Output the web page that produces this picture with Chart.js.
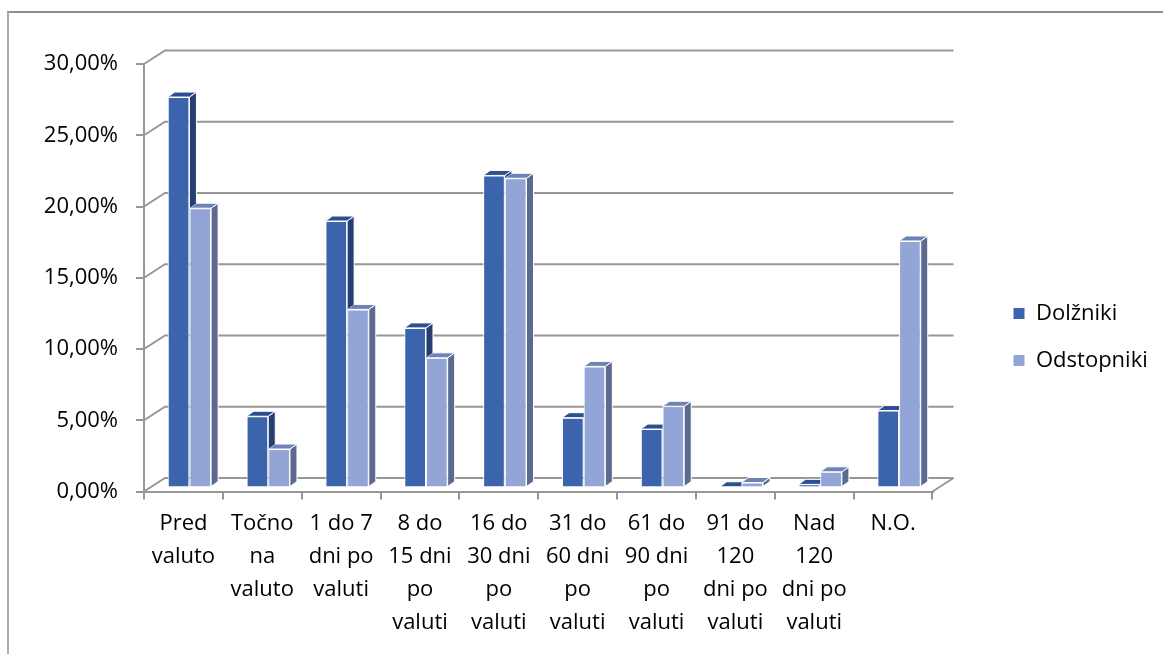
<!DOCTYPE html>
<html>
<head>
<meta charset="utf-8">
<script src="https://cdn.jsdelivr.net/npm/chart.js@4.4.1/dist/chart.umd.min.js"></script>
<style>
  html, body { margin: 0; padding: 0; background: #ffffff; }
  #wrap { width: 1163px; height: 654px; position: relative; }
</style>
</head>
<body>
<div id="wrap"><canvas id="chart" width="1163" height="654"></canvas></div>
<script>
// Categories (payment timing buckets)
const categories = [
  ["Pred", "valuto"],
  ["Točno", "na", "valuto"],
  ["1 do 7", "dni po", "valuti"],
  ["8 do", "15 dni", "po", "valuti"],
  ["16 do", "30 dni", "po", "valuti"],
  ["31 do", "60 dni", "po", "valuti"],
  ["61 do", "90 dni", "po", "valuti"],
  ["91 do", "120", "dni po", "valuti"],
  ["Nad", "120", "dni po", "valuti"],
  ["N.O."]
];

// Shares in percent
const dolzniki    = [27.4, 5.0, 18.7, 11.2, 21.9, 4.9, 4.1, 0.05, 0.22, 5.4];
const odstopniki  = [19.6, 2.7, 12.5, 9.1, 21.7, 8.5, 5.7, 0.35, 1.1, 17.3];

const seriesNames = ["Dolžniki", "Odstopniki"];

// Value axis ticks
const yTicks = [0, 5, 10, 15, 20, 25, 30];

const FONT = "'Open Sans'";
const FONT_SIZE = 22;
const GRID = "#979797";

// Face colours per series: front, side, top
const faces = [
  { front: "#3b64ad", side: "#263f72", top: "#2d4f8f" },
  { front: "#92a5d6", side: "#5c6a8f", top: "#6f82b4" }
];

// Depth of the wall/floor and of each bar prism
const WALL_DX = 21, WALL_DY = -13.5;
const BAR_DX = 7, BAR_DY = -5;
// Bars stand part-way into the floor
const BAR_SHIFT_X = 6, BAR_SHIFT_Y = -4;

function fmtPct(v) {
  return v.toFixed(2).replace(".", ",") + "%";
}

const frame = {
  id: "frame",
  beforeDraw(chart) {
    const ctx = chart.ctx;
    ctx.save();
    ctx.fillStyle = "#ffffff";
    ctx.fillRect(0, 0, chart.width, chart.height);
    ctx.lineWidth = 2;
    ctx.strokeStyle = "#8e8e8e";
    ctx.beginPath();
    ctx.moveTo(7, 12);
    ctx.lineTo(chart.width, 12);
    ctx.stroke();
    ctx.strokeStyle = "#ababab";
    ctx.beginPath();
    ctx.moveTo(8, 12);
    ctx.lineTo(8, chart.height);
    ctx.stroke();
    ctx.restore();
  }
};

// Back wall, side wall and floor lines of the 3D box, then offset the bars into depth
const box3d = {
  id: "box3d",
  beforeDatasetsDraw(chart) {
    const ctx = chart.ctx;
    const y = chart.scales.y;
    const { left, right, bottom } = chart.chartArea;
    ctx.save();
    ctx.strokeStyle = GRID;
    ctx.lineWidth = 2;
    ctx.lineCap = "butt";
    y.ticks.forEach(t => {
      const py = y.getPixelForValue(t.value);
      ctx.beginPath();
      ctx.moveTo(left, py);
      ctx.lineTo(left + WALL_DX, py + WALL_DY);
      ctx.lineTo(right + WALL_DX, py + WALL_DY);
      ctx.stroke();
    });
    ctx.beginPath();
    ctx.moveTo(right, bottom);
    ctx.lineTo(right + WALL_DX, bottom + WALL_DY);
    ctx.stroke();
    ctx.restore();

    ctx.save();
    ctx.translate(BAR_SHIFT_X, BAR_SHIFT_Y);
  },
  afterDatasetDraw(chart, args) {
    const ctx = chart.ctx;
    const idx = args.index;
    const col = faces[idx];
    const other = idx === 0 ? chart.getDatasetMeta(1) : null;
    args.meta.data.forEach((bar, i) => {
      const p = bar.getProps(["x", "y", "base", "width"], true);
      const l = p.x - p.width / 2, r = p.x + p.width / 2;
      ctx.save();
      if (other && other.data[i]) {
        // keep the neighbouring (already drawn) prism in front
        const o = other.data[i].getProps(["x", "y", "base", "width"], true);
        const ol = o.x - o.width / 2, or = o.x + o.width / 2;
        ctx.beginPath();
        ctx.rect(-50, -50, chart.width + 100, chart.height + 100);
        ctx.moveTo(ol, o.base);
        ctx.lineTo(ol, o.y);
        ctx.lineTo(ol + BAR_DX, o.y + BAR_DY);
        ctx.lineTo(or + BAR_DX, o.y + BAR_DY);
        ctx.lineTo(or + BAR_DX, o.base + BAR_DY);
        ctx.lineTo(or, o.base);
        ctx.closePath();
        ctx.clip("evenodd");
      }
      ctx.lineWidth = 1;
      ctx.strokeStyle = "#ffffff";
      ctx.lineJoin = "round";
      // side face
      ctx.beginPath();
      ctx.moveTo(r, p.y);
      ctx.lineTo(r + BAR_DX, p.y + BAR_DY);
      ctx.lineTo(r + BAR_DX, p.base + BAR_DY);
      ctx.lineTo(r, p.base);
      ctx.closePath();
      ctx.fillStyle = col.side;
      ctx.fill();
      ctx.stroke();
      // top face
      ctx.beginPath();
      ctx.moveTo(l, p.y);
      ctx.lineTo(l + BAR_DX, p.y + BAR_DY);
      ctx.lineTo(r + BAR_DX, p.y + BAR_DY);
      ctx.lineTo(r, p.y);
      ctx.closePath();
      ctx.fillStyle = col.top;
      ctx.fill();
      ctx.stroke();
      ctx.restore();
    });
  },
  afterDatasetsDraw(chart) {
    chart.ctx.restore();
  }
};

// Place the legend block beside the plot
const legendPlace = {
  id: "legendPlace",
  afterLayout(chart) {
    const lg = chart.legend;
    if (!lg) return;
    lg.left = 988; lg.right = chart.width;
    lg.width = lg.right - lg.left;
    lg.top = 277.5; lg.bottom = 277.5 + 160;
    lg.height = 160;
  }
};

const data = {
  labels: categories,
  datasets: [
    {
      label: seriesNames[0],
      data: dolzniki,
      backgroundColor: faces[0].front,
      borderColor: "#ffffff",
      borderWidth: 1,
      clip: false
    },
    {
      label: seriesNames[1],
      data: odstopniki,
      backgroundColor: faces[1].front,
      borderColor: "#ffffff",
      borderWidth: 1,
      clip: false
    }
  ]
};

new Chart(document.getElementById("chart"), {
  type: "bar",
  data,
  plugins: [frame, box3d, legendPlace],
  options: {
    responsive: false,
    animation: false,
    layout: { padding: { top: 64, left: 39, right: 110.5, bottom: 0 } },
    datasets: {
      bar: { categoryPercentage: 0.55, barPercentage: 1.0 }
    },
    plugins: {
      tooltip: { enabled: false },
      legend: {
        position: "right",
        align: "start",
        maxWidth: 120,
        labels: {
          boxWidth: 12,
          boxHeight: 12,
          padding: 25,
          color: "#000000",
          font: { family: FONT, size: FONT_SIZE }
        }
      }
    },
    scales: {
      x: {
        offset: true,
        grid: {
          offset: true,
          drawOnChartArea: false,
          drawTicks: true,
          tickLength: 8,
          color: GRID,
          lineWidth: 2
        },
        border: { display: true, color: GRID, width: 2 },
        ticks: {
          autoSkip: false,
          maxRotation: 0,
          minRotation: 0,
          padding: 8,
          color: "#000000",
          font: { family: FONT, size: FONT_SIZE, lineHeight: 33 / FONT_SIZE }
        },
        afterFit(scale) { scale.height = 162.5; }
      },
      y: {
        min: yTicks[0],
        max: yTicks[yTicks.length - 1],
        afterBuildTicks(scale) { scale.ticks = yTicks.map(v => ({ value: v })); },
        grid: {
          drawOnChartArea: false,
          drawTicks: true,
          tickLength: 8,
          color: GRID,
          lineWidth: 2
        },
        border: { display: true, color: GRID, width: 2 },
        ticks: {
          padding: 18,
          color: "#000000",
          font: { family: FONT, size: FONT_SIZE },
          callback: v => fmtPct(v)
        },
        afterFit(scale) { scale.width = 105; }
      }
    }
  }
});
</script>
</body>
</html>
